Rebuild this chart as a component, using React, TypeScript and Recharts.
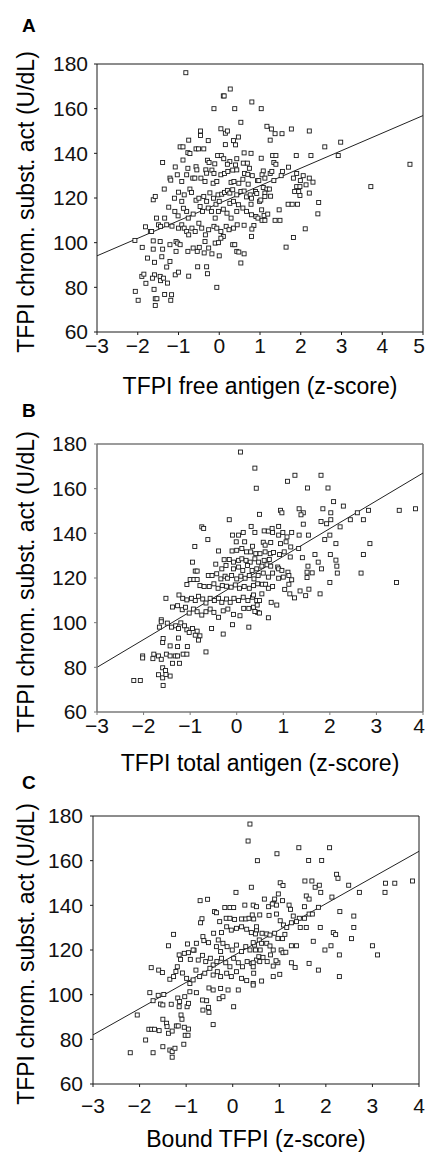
import { ReferenceLine, Scatter, ScatterChart, XAxis, YAxis } from "recharts";

// values (z-score, U/dL)
const yTicks = [60, 80, 100, 120, 140, 160, 180];
const xTicksA = [-3, -2, -1, 0, 1, 2, 3, 4, 5];
const xTicksBC = [-3, -2, -1, 0, 1, 2, 3, 4];

const fitA = [[-3, 94.1], [5, 156.9]];
const fitB = [[-3, 80], [4, 167]];
const fitC = [[-3, 82], [4, 164.2]];

const pointsA = [
  [-0.82, 176.1], [0.27, 168.8], [0.1, 165.7], [0.12, 165.7], [-0.13, 160], [0.38, 160],
  [0.53, 153.9], [0.04, 151], [0.15, 149], [0.2, 150], [-0.46, 150], [-0.46, 148],
  [0.47, 147.3], [-0.75, 145.9], [-0.27, 145.7], [0.35, 145.7], [0.4, 143.8], [0.15, 143.9],
  [-0.96, 142.9], [-0.89, 142.9], [-0.77, 140.3], [-0.72, 139.9], [-0.57, 142], [-0.51, 142],
  [-0.38, 142], [0.61, 140.2], [-1.39, 135.9], [-1.08, 133.9], [-0.89, 137], [-0.29, 136.9],
  [-0.25, 135.9], [-0.11, 135.3], [-0.04, 139], [0.05, 139], [0.11, 137.6], [0.26, 136.3],
  [0.43, 137.6], [0.2, 135.1], [0.4, 134.8], [0.59, 135.6], [0.69, 135.6], [0.74, 133.3],
  [-0.77, 133.3], [-0.57, 134], [-0.55, 132.6], [-0.33, 132.6], [-0.31, 131.1], [-0.18, 132.5],
  [-0.13, 131], [-1.21, 128.9], [-1.19, 128], [-1.03, 130.4], [-0.92, 127.4], [-0.8, 130.4],
  [-0.65, 128.9], [-0.6, 128.9], [-0.45, 128.9], [-0.35, 127.4], [-0.15, 126.6], [-0.06, 127.4],
  [0.04, 130.4], [0.13, 131], [0.21, 131.9], [0.33, 132.5], [0.43, 132.6], [0.29, 127],
  [0.36, 127.4], [0.48, 126.6], [0.58, 128.4], [0.62, 131], [0.7, 130.6], [0.81, 130],
  [0.71, 126.2], [-1.0, 122.6], [-1.1, 119.9], [-1.62, 119.2], [-1.57, 120.7], [-1.35, 124],
  [-1.24, 115.9], [-0.86, 121.4], [-0.92, 118.5], [-0.72, 124], [-0.68, 122.5], [-0.57, 119],
  [-0.5, 119.9], [-0.38, 120.7], [-0.31, 118.5], [-0.23, 122.3], [-0.14, 119.9], [-0.03, 121.4],
  [0.06, 121.7], [0.13, 122.5], [-0.08, 117.2], [0.0, 118.5], [0.2, 123.4], [0.26, 122.2],
  [0.33, 123.7], [0.43, 121.4], [0.53, 122.9], [0.61, 123.1], [0.67, 120.5], [0.76, 121.4],
  [0.26, 117.6], [0.35, 118.5], [0.47, 117], [0.58, 115.5], [0.67, 114], [0.43, 114],
  [0.19, 113.2], [0.29, 111], [0.1, 115], [-0.02, 114], [-0.1, 111], [-0.27, 115.5],
  [-0.19, 114], [-0.47, 116.2], [-0.41, 114], [-0.64, 112.8], [-0.8, 114], [-0.76, 111],
  [-0.88, 115.4], [-1.09, 114], [-1.01, 112], [-1.54, 111], [-1.49, 108], [-1.44, 107.3],
  [-1.34, 111], [-1.81, 107.1], [-1.69, 105], [-1.66, 105], [-1.29, 108], [-1.16, 107.4],
  [-1.0, 106.5], [-0.92, 108], [-0.86, 106.5], [-0.8, 105], [-0.75, 103.5], [-0.67, 106.5],
  [-0.59, 105], [-0.5, 108.7], [-0.43, 106.5], [-0.34, 103.5], [-0.26, 105.8], [-0.13, 107.3],
  [-0.06, 106.5], [0.04, 105], [0.1, 102.8], [0.17, 107.3], [0.24, 105.8], [0.35, 106.5],
  [0.44, 108], [0.61, 107.8], [-2.07, 101], [-1.89, 97.9], [-1.76, 93.1], [-1.62, 100.8],
  [-1.62, 97.1], [-1.59, 91.2], [-1.45, 100.5], [-1.39, 97.1], [-1.41, 93.7], [-1.21, 99.1],
  [-1.06, 100.5], [-1.06, 96.1], [-1.02, 99.8], [-0.96, 99.1], [-0.77, 96.1], [-0.64, 97.6],
  [-0.54, 96.1], [-0.49, 97.9], [-0.37, 95.4], [-0.26, 97.6], [-0.35, 100.5], [-0.18, 95],
  [-0.1, 99.8], [-0.02, 100], [0.04, 102], [0.0, 94.1], [0.33, 99.1], [0.38, 99.1],
  [0.43, 96.1], [0.48, 95.8], [0.53, 90.9], [0.61, 95], [-1.29, 89.1], [-1.21, 91.6],
  [-1.9, 84.9], [-1.85, 85.9], [-1.8, 81.8], [-1.59, 85.6], [-1.64, 84.1], [-1.45, 84.9],
  [-1.44, 83], [-1.37, 84.1], [-1.27, 81.9], [-1.6, 79.1], [-1.08, 85.6], [-1.0, 86.8],
  [-0.75, 85], [-0.53, 89.2], [-0.31, 89.2], [-0.29, 86.1], [-2.06, 78.2], [-1.99, 74.2],
  [-1.57, 74.9], [-1.53, 74.9], [-1.34, 76.8], [-1.17, 76.7], [-1.19, 74.2], [-1.57, 71.9],
  [-0.06, 80],
  [0.8, 163], [1.03, 160], [1.17, 152.1], [1.28, 150.9], [1.37, 148.8], [1.54, 148.8],
  [1.77, 150.9], [2.21, 150], [1.25, 145.9], [0.78, 140], [2.59, 142.9], [2.98, 145],
  [1.03, 137.8], [1.31, 139], [1.39, 139], [1.89, 139], [2.25, 139], [2.92, 139],
  [1.34, 135.9], [1.39, 135.1], [1.7, 133.8], [1.55, 131.9], [1.52, 130], [1.08, 132.1],
  [1.05, 130.4], [1.25, 131], [1.29, 131.9], [0.94, 127.8], [0.97, 127.8], [1.12, 128.9],
  [1.9, 131], [1.82, 128.9], [2.06, 130], [1.99, 127.8], [2.21, 128.9], [2.3, 127.1],
  [1.34, 127.8], [4.68, 135.1], [3.72, 125.1], [0.89, 122.9], [0.92, 122], [1.08, 124.7],
  [1.17, 124], [1.12, 122.2], [1.23, 124], [1.26, 120.8], [1.9, 125.1], [1.98, 125.1],
  [2.13, 125.9], [1.85, 122.9], [1.95, 122.9], [2.21, 122.2], [1.98, 121.1], [0.79, 119.9],
  [0.78, 117.2], [0.99, 118.5], [1.02, 119.1], [1.12, 120.7], [1.69, 117.2], [1.79, 117.2],
  [1.92, 117.2], [2.44, 118], [1.04, 114.7], [1.47, 114.7], [2.42, 112.9], [0.79, 112.5],
  [0.9, 111.7], [0.95, 111], [1.1, 112.2], [1.19, 112.8], [1.05, 110], [1.12, 110],
  [1.37, 110], [1.49, 110], [0.85, 107.7], [0.8, 106.1], [0.79, 102.8], [2.11, 106.2],
  [1.82, 102.3], [1.64, 98],
];

const pointsB = [
  [0.08, 176.4], [0.39, 169.2], [0.42, 160.2], [0.49, 148.5], [-0.16, 146.1], [-0.75, 142.9],
  [-0.71, 142.2], [-0.62, 137.2], [-0.9, 134.1], [-0.39, 132.1], [-0.09, 139.2], [0.04, 139.2],
  [0.14, 140.4], [0.31, 143.1], [0.39, 140.4], [-0.01, 136.2], [0.17, 136.2], [0.34, 134.2],
  [-0.1, 132.1], [0.0, 132.4], [0.11, 133.2], [0.21, 131.7], [0.3, 131.7], [0.41, 130.9],
  [-0.27, 128.2], [-0.16, 128.3], [-0.07, 127.1], [0.04, 127.9], [0.11, 128.6], [0.2, 127.9],
  [0.29, 127.1], [0.39, 128.6], [0.47, 127.1], [-0.45, 126.2], [-0.32, 124.1], [-0.23, 125.6],
  [-0.07, 124.1], [0.04, 124.9], [0.13, 123.4], [0.23, 125.6], [0.33, 123.4], [0.43, 124.1],
  [-0.95, 127.1], [-0.89, 123.1], [-0.85, 123.1], [-0.61, 121.1], [-0.53, 121.1], [-0.43, 121.9],
  [-0.34, 119.6], [-0.25, 120.8], [-0.2, 119.9], [-0.11, 121.1], [0.0, 119.6], [0.09, 120.8],
  [0.18, 119.9], [0.27, 121.1], [0.37, 119.6], [0.46, 121.1], [-1.0, 119.3], [-0.92, 119.3],
  [-0.85, 119.3], [-1.07, 117.1], [-0.79, 116.6], [-0.7, 116.2], [-0.59, 116.2], [-0.49, 117.4],
  [-0.4, 115.4], [-0.31, 116.6], [-0.22, 116.3], [-0.12, 115.9], [-0.03, 116.9], [0.06, 115.4],
  [0.16, 116.2], [0.27, 115.4], [0.36, 116.6], [0.45, 117.4], [-1.24, 112.4], [-1.16, 110.9],
  [-1.07, 110.2], [-0.97, 110.9], [-0.89, 109.9], [-0.82, 111.8], [-0.73, 110.6], [-0.66, 108.8],
  [-0.57, 110.9], [-0.48, 109.9], [-0.39, 110.9], [-0.32, 109.1], [-0.22, 110.6], [-0.14, 109.1],
  [-0.06, 110.9], [0.04, 109.9], [0.14, 111.4], [0.24, 109.9], [0.34, 111.4], [0.43, 109.9],
  [-1.52, 110.9], [-1.38, 107], [-1.27, 107.6], [-1.17, 105.8], [-1.1, 106.9], [-1.02, 104.3],
  [-0.93, 106.1], [-0.85, 104.9], [-0.75, 103.4], [-0.66, 104.9], [-0.57, 106.1], [-0.49, 104.6],
  [-0.39, 102.4], [-0.29, 105.3], [-0.19, 106.1], [-0.07, 103.7], [0.15, 106.4], [0.26, 106.4],
  [0.36, 106.9], [0.45, 104.6], [0.07, 103.1], [-1.62, 101.3], [-1.62, 100.4], [-1.66, 98],
  [-1.49, 99.8], [-1.4, 98], [-1.31, 98.6], [-1.25, 97.4], [-1.2, 99.9], [-1.12, 98.6],
  [-1.07, 96.8], [-1.02, 95.6], [-0.95, 97.4], [-0.89, 94.4], [-0.85, 96.2], [-0.79, 94.1],
  [-0.82, 92.2], [-0.54, 97.4], [-0.29, 94.9], [-0.09, 99.1], [0.26, 98], [-1.58, 92.9],
  [-1.59, 91.1], [-1.43, 89.6], [-1.27, 89.3], [-1.06, 89.3], [-1.25, 93.1], [-0.66, 86.9],
  [-2.02, 85.1], [-2.02, 84.2], [-1.8, 83.9], [-1.78, 85.9], [-1.68, 85.1], [-1.62, 83.6],
  [-1.51, 85.9], [-1.43, 85.1], [-1.32, 85.1], [-1.27, 85.1], [-1.15, 85.9], [-1.07, 85.9],
  [-1.38, 81.8], [-1.23, 81.8], [-1.59, 79.8], [-1.53, 78.6], [-1.68, 76.7], [-1.59, 75.3],
  [-1.43, 76.1], [-1.52, 76.8], [-1.58, 71.9], [-2.21, 74.1], [-2.07, 74.1],
  [1.25, 166], [1.81, 166], [1.09, 163.3], [1.52, 160.3], [1.96, 160.3], [2.08, 154.2],
  [2.29, 152.2], [0.94, 150.3], [0.97, 149.2], [1.34, 151], [1.43, 149.2], [1.38, 148.3],
  [1.85, 151], [2.02, 149.2], [2.02, 146.1], [1.81, 145.3], [1.93, 144.3], [2.59, 149.2],
  [2.83, 150.3], [2.44, 146.1], [2.72, 146.1], [3.49, 150.3], [3.84, 151], [2.22, 142.9],
  [1.43, 144.1], [0.9, 143.1], [0.59, 141.1], [0.68, 141], [0.76, 142.2], [0.77, 140.4],
  [0.9, 139.2], [0.99, 140.4], [1.08, 138.4], [1.18, 140.4], [1.34, 139.2], [1.54, 139.2],
  [2.0, 139.2], [1.89, 137.2], [2.13, 135.4], [2.86, 135.4], [0.57, 136], [0.73, 135.9],
  [0.61, 134.7], [0.94, 135.4], [1.06, 136.2], [1.16, 133.9], [1.33, 133.2], [0.5, 130.9],
  [0.61, 131.7], [0.72, 130.9], [0.79, 131.4], [0.92, 130.5], [1.02, 131.7], [1.15, 129.4],
  [1.68, 130.5], [2.01, 130.5], [2.72, 130.5], [1.41, 129.1], [1.75, 127.1], [2.13, 128],
  [0.59, 127.9], [0.7, 128.3], [0.54, 125.3], [0.65, 125.9], [0.73, 125.3], [0.88, 124.9],
  [0.9, 124.1], [0.97, 123.4], [1.1, 122.6], [1.12, 121.1], [1.18, 119.2], [1.53, 125.3],
  [1.51, 122.6], [1.62, 122.3], [1.51, 120.2], [1.82, 124.1], [2.15, 125.3], [2.16, 122.2],
  [2.67, 122.2], [2.0, 118], [3.43, 118], [0.57, 122.2], [0.68, 120.4], [0.77, 122.2],
  [0.9, 119.9], [1.0, 120.4], [0.55, 117.2], [0.62, 117.2], [0.68, 115.4], [0.77, 116.2],
  [1.03, 114.9], [1.12, 117.2], [1.36, 114.2], [1.48, 112.1], [1.55, 115], [1.24, 111.1],
  [1.14, 112.9], [1.79, 112.9], [0.36, 112.4], [0.54, 112.9], [0.49, 109.9], [0.44, 107.9],
  [0.39, 105], [0.49, 104.3], [0.74, 109.1], [0.86, 107.9], [0.68, 102.2],
];

const pointsC = [
  [0.37, 176.4], [0.33, 168.8], [0.53, 160], [0.4, 148.1], [0.07, 145.8], [-0.7, 142.1],
  [-0.54, 142.7], [-0.66, 134], [-0.69, 132.2], [-0.39, 137.2], [-0.35, 136.7], [-0.17, 139],
  [-0.06, 139], [0.02, 139], [0.26, 140.1], [0.44, 140.1], [0.51, 139.4], [-0.28, 132.7],
  [-0.14, 134.2], [-0.06, 134.2], [0.04, 133.7], [0.19, 133.9], [0.28, 133.9], [0.35, 134.2],
  [0.45, 133.9], [-1.27, 127], [-1.38, 121.9], [-0.97, 122.7], [-0.78, 123], [-0.83, 119.9],
  [-0.64, 126], [-0.62, 124.2], [-0.52, 123.3], [-0.41, 127.5], [-0.31, 124.5], [-0.24, 127.8],
  [-0.13, 130.4], [-0.03, 128.9], [0.08, 129.7], [0.19, 130.4], [0.3, 129.3], [0.4, 127.8],
  [0.51, 128.9], [-0.35, 121.5], [-0.26, 119.3], [-0.21, 123], [-0.12, 121.5], [-0.01, 120],
  [0.08, 122.2], [0.19, 119.3], [0.28, 121.5], [0.37, 120], [0.47, 122.2], [-1.15, 117.8],
  [-1.12, 115.8], [-1.04, 118.5], [-0.95, 118.8], [-0.85, 120], [-0.91, 115.8], [-0.74, 115.5],
  [-0.65, 117.6], [-0.58, 114.8], [-0.48, 116.3], [-0.42, 113.3], [-0.34, 114.8], [-0.24, 116.3],
  [-0.15, 114.3], [-0.06, 112.5], [0.02, 116.3], [0.12, 114.3], [0.21, 112.5], [0.31, 114.8],
  [0.41, 114], [0.51, 115.5], [-1.75, 112.1], [-1.59, 111], [-1.51, 109.9], [-1.35, 106.9],
  [-1.27, 108.1], [-1.22, 110.4], [-1.19, 112.5], [-1.08, 109.7], [-0.99, 107.3], [-0.92, 105],
  [-0.85, 106.6], [-0.79, 111], [-0.71, 108.1], [-0.6, 109.6], [-0.49, 111.8], [-0.42, 108.8],
  [-0.33, 110.3], [-0.26, 108.1], [-0.13, 109.6], [-0.03, 108.1], [0.08, 110.3], [0.19, 107.3],
  [0.3, 106.3], [0.44, 105], [-1.78, 100.9], [-1.71, 97.3], [-1.6, 99.7], [-1.48, 100.1],
  [-1.55, 95.8], [-1.5, 95.4], [-1.32, 95.7], [-1.18, 98.5], [-1.14, 96.9], [-1.03, 99.1],
  [-1.15, 94.6], [-0.98, 94.6], [-0.95, 96.1], [-0.92, 101.3], [-0.78, 100.9], [-0.65, 97.6],
  [-0.56, 97.3], [-0.64, 93.1], [-0.51, 92.1], [-0.52, 94.3], [-0.29, 98.2], [-0.21, 99.1],
  [0.02, 94.6], [-0.51, 103], [-0.42, 102.1], [-0.26, 102.8], [-0.1, 102.1], [0.12, 102.1],
  [-2.05, 90.9], [-1.11, 90.9], [-1.09, 89], [-1.5, 89], [-1.42, 87.2], [-1.21, 86],
  [-1.17, 86], [-1.04, 85.4], [-0.95, 84.6], [-1.02, 81.8], [-0.96, 81.8], [-0.42, 86.6],
  [-1.8, 84.5], [-1.74, 84.5], [-1.68, 84.5], [-1.58, 83.9], [-1.41, 85.7], [-1.38, 82.7],
  [-1.3, 83.7], [-1.87, 79.7], [-1.5, 76.7], [-1.35, 75.2], [-1.3, 74.5], [-1.24, 76],
  [-1.05, 77.8], [-1.71, 74], [-2.2, 74], [-1.3, 72],
  [1.42, 165.8], [2.08, 165.8], [0.95, 163.1], [1.63, 160.1], [1.91, 160.1], [2.23, 153.9],
  [2.26, 152.1], [1.02, 150.1], [1.08, 148.9], [1.55, 150.9], [1.7, 150.9], [1.77, 148.1],
  [1.86, 149], [2.49, 149], [1.89, 145.8], [2.72, 145.8], [3.28, 149.9], [3.48, 149.9],
  [3.86, 150.9], [3.27, 145.8], [0.98, 145.1], [1.58, 144.2], [1.64, 142.8], [2.13, 143.7],
  [0.68, 142.8], [0.9, 142.8], [0.88, 140.9], [0.94, 140.1], [1.07, 142.1], [0.77, 139.4],
  [0.85, 140.6], [1.21, 140.1], [1.24, 138.2], [1.54, 139.4], [1.84, 139.1], [0.42, 135.7],
  [0.58, 135.7], [0.78, 135.5], [0.94, 136.1], [1.3, 135.2], [1.43, 134.2], [1.64, 136.1],
  [1.71, 136.1], [2.3, 137.2], [2.6, 135.2], [1.02, 133.1], [1.09, 131.2], [1.16, 130.1],
  [1.26, 132.2], [1.37, 132.7], [1.54, 134.2], [0.51, 130.4], [0.49, 127.2], [0.63, 127.5],
  [0.73, 127.2], [0.8, 126.7], [0.9, 127.5], [0.97, 125.2], [1.07, 125.1], [1.12, 127],
  [1.45, 130.1], [1.58, 130.1], [1.88, 130.1], [2.16, 127.8], [2.21, 126.9], [2.6, 130.1],
  [2.55, 125.1], [1.73, 123.9], [1.98, 120], [2.11, 121.9], [2.29, 117.8], [3.0, 121.9],
  [3.11, 117.8], [1.26, 121.9], [1.37, 121.9], [0.44, 123.3], [0.57, 124.5], [0.62, 123],
  [0.73, 123], [0.8, 121.8], [0.87, 120], [1.04, 120], [1.08, 118.8], [1.14, 119],
  [0.49, 120], [0.59, 120], [0.56, 117], [0.65, 116.7], [0.74, 114.8], [0.81, 117.8],
  [0.44, 114.3], [0.44, 112.5], [0.58, 114.8], [0.87, 112.8], [0.97, 114.3], [0.93, 115.2],
  [1.26, 114.3], [1.34, 112.2], [1.64, 114], [1.84, 111], [0.45, 109.6], [0.44, 104.3],
  [0.62, 106.1], [0.87, 108.1], [1.01, 109.1], [2.29, 108.1],
];

const FONT = '"Liberation Sans", Arial, Helvetica, sans-serif';
const yTitle = "TFPI chrom. subst. act (U/dL)";

const fmt = (v: number) => (v < 0 ? "\u2212" + Math.abs(v) : String(v));

function Square(props: any) {
  const { cx, cy } = props;
  if (cx == null || cy == null) return <g />;
  return (
    <rect x={cx - 2} y={cy - 2} width={4} height={4} fill="#fff" stroke="#1a1a1a" strokeWidth={0.9} />
  );
}

// bottom tick label, kept inside the 426px page
function XTick(props: any) {
  const { x, y, payload } = props;
  return (
    <text
      x={Math.min(x, 419)}
      y={y}
      dy="0.71em"
      textAnchor="middle"
      fill="#111"
      fontSize={21}
      fontFamily={FONT}
    >
      {fmt(payload.value)}
    </text>
  );
}

type PanelProps = {
  top: number;
  letter: string;
  letterTop: number;
  points: number[][];
  fit: number[][];
  xTicks: number[];
  xTitle: string;
  xTitleTop: number;
  axisLeft: number;
  right: number;
  tickGapX: number;
  tickGapY: number;
  frame: string;
  frameWidth: number;
};

function Panel(p: PanelProps) {
  const data = p.points.map(([x, y]) => ({ x, y }));
  const xMax = p.xTicks[p.xTicks.length - 1];
  const plotTop = p.top + 64;
  const plotMid = plotTop + 134;
  return (
    <>
      <div
        style={{
          position: "absolute", left: 22, top: p.letterTop, fontFamily: FONT,
          fontWeight: 700, fontSize: 19, lineHeight: "19px", color: "#000",
        }}
      >
        {p.letter}
      </div>
      <div
        style={{
          position: "absolute", left: 26 - 170, top: plotMid + 4 - 13, width: 340, height: 26,
          lineHeight: "26px", textAlign: "center", fontFamily: FONT, fontSize: 23, color: "#000",
          transform: "rotate(-90deg)", whiteSpace: "nowrap",
        }}
      >
        {yTitle}
      </div>
      <div
        style={{
          position: "absolute", left: p.axisLeft, width: 426 - p.right - p.axisLeft, top: p.xTitleTop,
          textAlign: "center", fontFamily: FONT, fontSize: 23, lineHeight: "23px", color: "#000",
          whiteSpace: "nowrap",
        }}
      >
        {p.xTitle}
      </div>
      <div style={{ position: "absolute", left: 0, top: p.top, width: 426, height: 372 }}>
        <ScatterChart width={426} height={372} margin={{ top: 64, right: p.right, bottom: 0, left: 0 }}>
          <XAxis
            type="number"
            dataKey="x"
            domain={[-3, xMax]}
            ticks={p.xTicks}
            interval={0}
            height={40}
            tickSize={3}
            tickMargin={p.tickGapX}
            axisLine={{ stroke: p.frame, strokeWidth: p.frameWidth }}
            tickLine={{ stroke: p.frame }}
            tick={<XTick />}
          />
          <YAxis
            type="number"
            dataKey="y"
            domain={[60, 180]}
            ticks={yTicks}
            interval={0}
            width={p.axisLeft}
            tickSize={3}
            tickMargin={p.tickGapY}
            axisLine={{ stroke: p.frame, strokeWidth: p.frameWidth }}
            tickLine={{ stroke: p.frame }}
            tick={{ fill: "#111", fontSize: 21, fontFamily: FONT }}
          />
          <ReferenceLine y={180} stroke={p.frame} strokeWidth={p.frameWidth} />
          <ReferenceLine x={xMax} stroke={p.frame} strokeWidth={p.frameWidth} />
          <ReferenceLine
            segment={[
              { x: p.fit[0][0], y: p.fit[0][1] },
              { x: p.fit[1][0], y: p.fit[1][1] },
            ]}
            stroke="#222"
            strokeWidth={1}
          />
          <Scatter data={data} shape={Square} isAnimationActive={false} />
        </ScatterChart>
      </div>
    </>
  );
}

export default function App() {
  return (
    <div
      style={{
        position: "absolute", left: 0, top: 0, width: 426, height: 1153,
        overflow: "hidden", background: "#fff",
      }}
    >
      <Panel
        top={0} letter="A" letterTop={15.5} points={pointsA} fit={fitA} xTicks={xTicksA}
        xTitle="TFPI free antigen (z-score)" xTitleTop={374.5} axisLeft={97} right={3}
        tickGapX={3} tickGapY={6} frame="#1a1a1a" frameWidth={1}
      />
      <Panel
        top={380} letter="B" letterTop={400.5} points={pointsB} fit={fitB} xTicks={xTicksBC}
        xTitle="TFPI total antigen (z-score)" xTitleTop={751.5} axisLeft={97} right={3}
        tickGapX={3} tickGapY={7} frame="#7a7a7a" frameWidth={1.6}
      />
      <Panel
        top={752} letter="C" letterTop={772.5} points={pointsC} fit={fitC} xTicks={xTicksBC}
        xTitle="Bound TFPI (z-score)" xTitleTop={1128} axisLeft={93} right={7}
        tickGapX={11} tickGapY={7} frame="#1a1a1a" frameWidth={1}
      />
    </div>
  );
}
